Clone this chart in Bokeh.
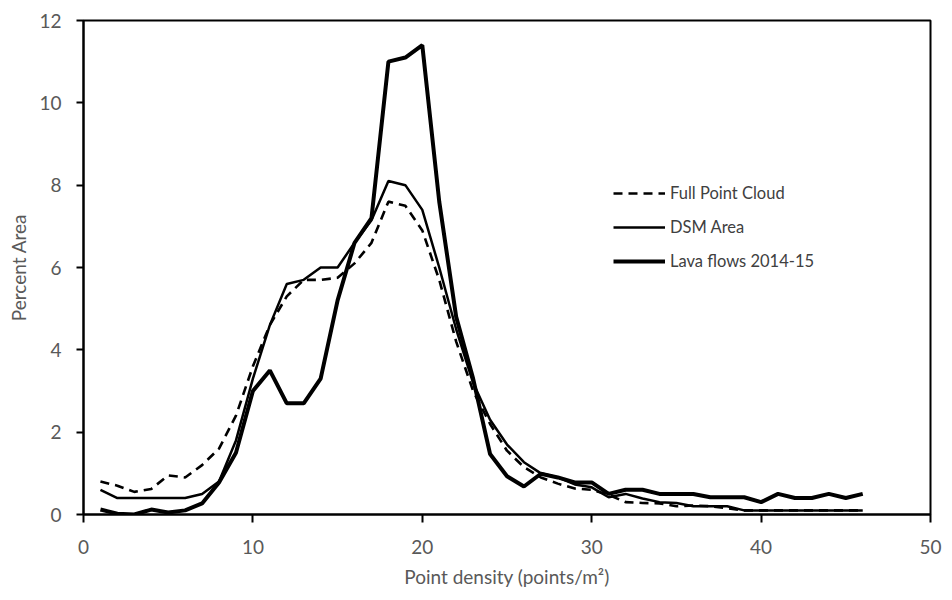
from bokeh.plotting import figure
from bokeh.models import Legend, LegendItem, FixedTicker, Range1d
from bokeh.embed import file_html
from bokeh.resources import INLINE

density = list(range(1, 47))

full_point_cloud = [0.8, 0.7, 0.55, 0.62, 0.95, 0.9, 1.2, 1.6, 2.4, 3.6,
                    4.6, 5.3, 5.7, 5.7, 5.75, 6.1, 6.6, 7.6, 7.5, 6.9,
                    5.7, 4.2, 3.0, 2.2, 1.55, 1.15, 0.9, 0.75, 0.63, 0.6,
                    0.48, 0.3, 0.28, 0.27, 0.2, 0.22, 0.2, 0.15, 0.1, 0.1,
                    0.1, 0.1, 0.1, 0.1, 0.1, 0.1]

dsm_area = [0.6, 0.4, 0.4, 0.4, 0.4, 0.4, 0.5, 0.8, 1.8, 3.3,
            4.6, 5.6, 5.7, 6.0, 6.0, 6.6, 7.15, 8.1, 8.0, 7.4,
            6.0, 4.5, 3.2, 2.3, 1.7, 1.27, 1.0, 0.9, 0.73, 0.66,
            0.42, 0.5, 0.39, 0.3, 0.28, 0.2, 0.2, 0.2, 0.1, 0.1,
            0.1, 0.1, 0.1, 0.1, 0.1, 0.1]

lava_flows = [0.12, 0.02, 0.0, 0.12, 0.05, 0.1, 0.27, 0.78, 1.5, 3.0,
              3.5, 2.7, 2.7, 3.3, 5.2, 6.6, 7.2, 11.0, 11.1, 11.4,
              7.6, 4.8, 3.3, 1.47, 0.93, 0.68, 0.99, 0.9, 0.78, 0.78,
              0.5, 0.6, 0.6, 0.5, 0.5, 0.5, 0.42, 0.42, 0.42, 0.3,
              0.5, 0.4, 0.4, 0.5, 0.4, 0.5]

x_ticks = [0, 10, 20, 30, 40, 50]
y_ticks = [0, 2, 4, 6, 8, 10, 12]

FONT = "Lato"
GRAY = "#595959"

p = figure(width=952, height=600, output_backend="svg", toolbar_location=None,
           x_range=Range1d(0, 50), y_range=Range1d(0, 12))
p.min_border_left = 83
p.min_border_right = 22
p.min_border_top = 20
p.min_border_bottom = 86

p.xgrid.visible = False
p.ygrid.visible = False
p.outline_line_color = "black"
p.outline_line_width = 2
p.background_fill_color = "white"
p.border_fill_color = "white"

for ax in (p.xaxis[0], p.yaxis[0]):
    ax.axis_line_color = "black"
    ax.axis_line_width = 2
    ax.major_tick_line_color = "black"
    ax.major_tick_line_width = 2
    ax.major_tick_in = 0
    ax.minor_tick_line_color = None
    ax.major_label_text_font = FONT
    ax.major_label_text_font_size = "19px"
    ax.major_label_text_color = GRAY
    ax.axis_label_text_font = FONT
    ax.axis_label_text_font_size = "19px"
    ax.axis_label_text_color = GRAY
    ax.axis_label_text_font_style = "normal"

p.xaxis[0].ticker = FixedTicker(ticks=x_ticks)
p.yaxis[0].ticker = FixedTicker(ticks=y_ticks)
p.xaxis[0].major_tick_out = 8
p.yaxis[0].major_tick_out = 7
p.xaxis[0].major_label_standoff = 17
p.yaxis[0].major_label_standoff = 15
p.xaxis[0].axis_label = "Point density (points/m²)"
p.yaxis[0].axis_label = "Percent Area"
p.xaxis[0].axis_label_standoff = 8
p.yaxis[0].axis_label_standoff = 6

r1 = p.line(density, full_point_cloud, line_color="black", line_width=2.6,
            line_dash="9 6")
r2 = p.line(density, dsm_area, line_color="black", line_width=2.5)
r3 = p.line(density, lava_flows, line_color="black", line_width=4)

legend = Legend(items=[LegendItem(label="Full Point Cloud", renderers=[r1]),
                       LegendItem(label="DSM Area", renderers=[r2]),
                       LegendItem(label="Lava flows 2014-15", renderers=[r3])],
                location=(530, 243))
legend.glyph_width = 52
legend.glyph_height = 20
legend.label_height = 20
legend.label_standoff = 5
legend.spacing = 14
legend.padding = 0
legend.margin = 0
legend.border_line_color = None
legend.background_fill_alpha = 0
legend.label_text_font = FONT
legend.label_text_font_size = "16.5px"
legend.label_text_color = "#404040"
p.add_layout(legend, "center")

open("out.html", "w").write(file_html(p, INLINE))
